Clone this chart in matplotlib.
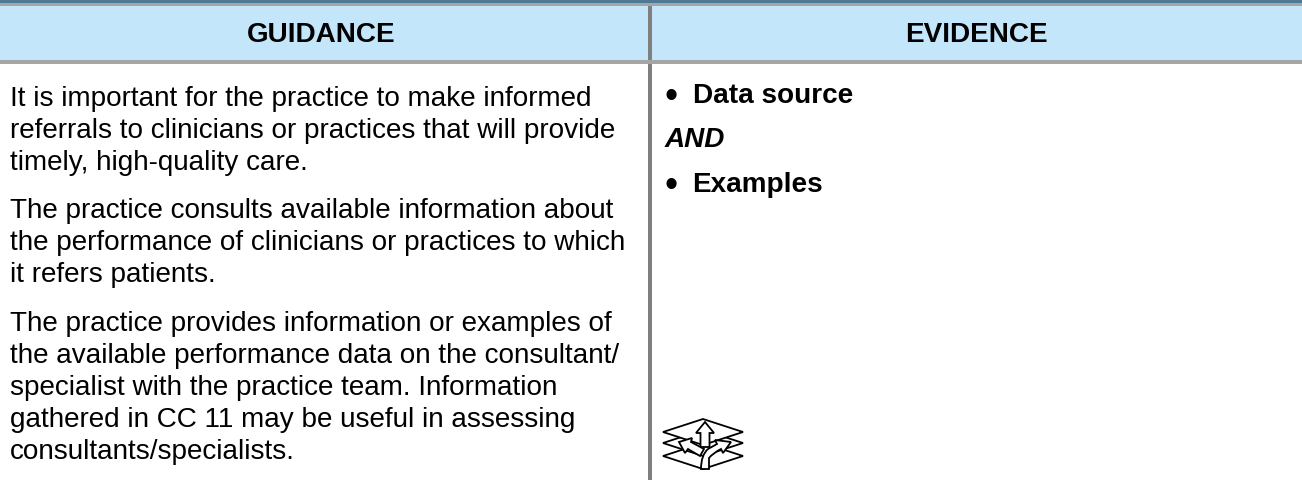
import matplotlib
matplotlib.use("Agg")
import matplotlib.pyplot as plt
from matplotlib.patches import Rectangle, Polygon, PathPatch
from matplotlib.path import Path

headers = ["GUIDANCE", "EVIDENCE"]
guidance_lines = [
    "It is important for the practice to make informed",
    "referrals to clinicians or practices that will provide",
    "timely, high-quality care.",
    "The practice consults available information about",
    "the performance of clinicians or practices to which",
    "it refers patients.",
    "The practice provides information or examples of",
    "the available performance data on the consultant/",
    "specialist with the practice team. Information",
    "gathered in CC 11 may be useful in assessing",
    "consultants/specialists.",
]
guidance_y = [106, 138, 170, 218, 250.5, 282.5, 331, 363, 395, 427, 459]

W, H = 1302, 480
fig = plt.figure(figsize=(W / 100, H / 100), dpi=100)
ax = fig.add_axes([0, 0, 1, 1])
ax.set_xlim(0, W)
ax.set_ylim(H, 0)
ax.axis("off")
FONT = "Liberation Sans"
FS = 20.1
GRAY = "#a5a5a5"
VGRAY = "#7f7f7f"

ax.add_patch(Rectangle((0, 6), W, 54, fc="#c4e6fa", ec="none"))
ax.add_patch(Rectangle((0, 0), W, 3, fc="#4f7a96", ec="none"))
ax.add_patch(Rectangle((0, 3), W, 3, fc=GRAY, ec="none"))
ax.add_patch(Rectangle((0, 60), W, 4, fc=GRAY, ec="none"))
ax.add_patch(Rectangle((648, 6), 4, 54, fc=VGRAY, ec="none"))
ax.add_patch(Rectangle((648, 64), 4, 416, fc=VGRAY, ec="none"))

for x, t in zip([321, 976.5], headers):
    ax.text(x, 42, t, ha="center", va="baseline", fontsize=FS, fontweight="bold", family=FONT, color="black")

for y, t in zip(guidance_y, guidance_lines):
    ax.text(10, y, t, ha="left", va="baseline", fontsize=FS, family=FONT, color="black")

ax.text(664, 108, "•", ha="left", va="baseline", fontsize=27, family=FONT, color="black")
ax.text(693, 103, "Data source", ha="left", va="baseline", fontsize=FS, fontweight="bold", family=FONT, color="black")
ax.text(665, 147, "AND", ha="left", va="baseline", fontsize=FS, fontweight="bold", style="italic", family=FONT, color="black")
ax.text(664, 197, "•", ha="left", va="baseline", fontsize=27, family=FONT, color="black")
ax.text(692.5, 192, "Examples", ha="left", va="baseline", fontsize=FS, fontweight="bold", family=FONT, color="black")

# icon
lw = 1.3
k = dict(fc="white", ec="black", lw=lw, joinstyle="miter")
ax.add_patch(Polygon([(663, 456), (703, 443), (743, 456), (703, 469)], closed=True, **k))
ax.add_patch(Polygon([(663, 443), (703, 430), (743, 443), (703, 456)], closed=True, **k))
ax.add_patch(Polygon([(663, 432), (703, 419), (743, 432), (703, 445)], closed=True, **k))
ax.add_patch(Polygon([(705, 422), (696, 433), (700.5, 433), (700.5, 447), (709.5, 447), (709.5, 433), (714, 433)], closed=True, **k))
ax.add_patch(Polygon([(679, 442), (692, 438), (691, 442), (704, 449), (700, 456), (688, 449), (685, 453)], closed=True, **k))
verts = [(701, 469), (701, 455), (708, 449), (717, 444), (715, 440), (731, 442), (723, 453), (721, 449),
         (713, 453), (709, 458), (709, 469), (701, 469)]
codes = [Path.MOVETO, Path.CURVE3, Path.CURVE3, Path.LINETO, Path.LINETO, Path.LINETO, Path.LINETO, Path.LINETO,
         Path.CURVE3, Path.CURVE3, Path.LINETO, Path.CLOSEPOLY]
ax.add_patch(PathPatch(Path(verts, codes), **k))

fig.savefig("out.png", dpi=100)
